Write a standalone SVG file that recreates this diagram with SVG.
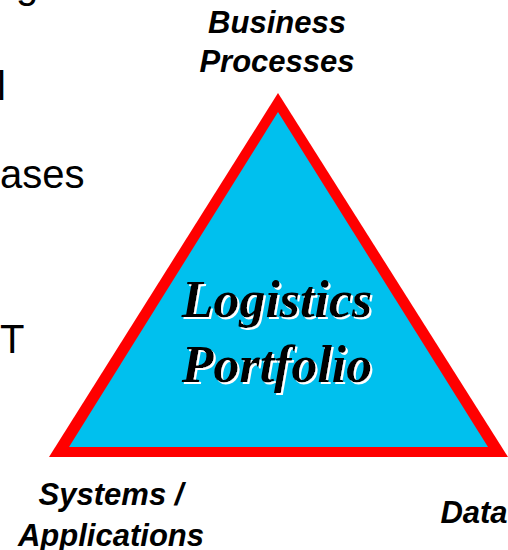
<svg xmlns="http://www.w3.org/2000/svg" width="508" height="550" viewBox="0 0 508 550">
<defs>
<filter id="wshadow" x="-10%" y="-10%" width="120%" height="130%">
<feDropShadow dx="2" dy="2" stdDeviation="0" flood-color="#ffffff" flood-opacity="1"/>
</filter>
</defs>
<style>
.bg{font-family:"Liberation Sans",Arial,sans-serif;font-size:40px;fill:#000}
.lbl{font-family:"Liberation Sans",Arial,sans-serif;font-size:31px;font-weight:bold;font-style:italic;fill:#000;text-anchor:middle}
.ttl{font-family:"Liberation Serif","Times New Roman",serif;font-size:52px;font-weight:bold;font-style:italic;text-anchor:middle;fill:#000;filter:url(#wshadow)}
</style>
<rect width="508" height="550" fill="#fff"/>
<g id="background-text">
<text class="bg" x="16" y="-2">g</text>
<text class="bg" x="-3" y="100">l</text>
<text class="bg" x="0" y="188">ases</text>
<text class="bg" x="0" y="353">T</text>
</g>
<g id="triangle">
<polygon points="49,457 278,93 508,457" fill="#FF0000"/>
<polygon points="69,447 278,112 488,447" fill="#00C0EE"/>
<text class="ttl" x="277" y="317">Logistics</text>
<text class="ttl" x="277" y="382">Portfolio</text>
</g>
<g id="business-processes">
<text class="lbl" x="277" y="33">Business</text>
<text class="lbl" x="277" y="72">Processes</text>
</g>
<g id="systems-applications">
<text class="lbl" x="111" y="505">Systems /</text>
<text class="lbl" x="111" y="546">Applications</text>
</g>
<g id="data">
<text class="lbl" x="474" y="523">Data</text>
</g>
<g id="connectors"></g>
</svg>
